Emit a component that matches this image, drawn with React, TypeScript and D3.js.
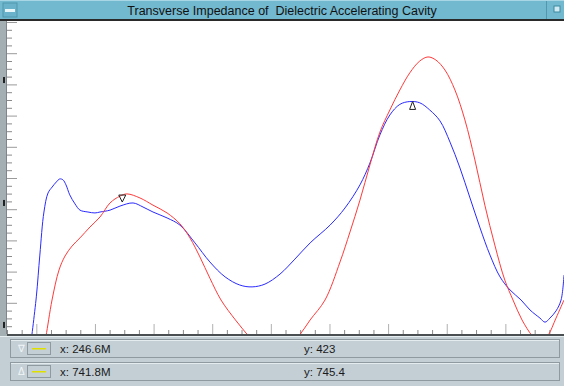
import React from 'react';
import * as d3 from 'd3';

// frequency (MHz) and impedance readings, estimated from the trace
const blueFreq = [90, 100, 106, 113, 120, 127, 134, 140, 145.5, 150.6, 157, 166, 174.5, 188, 200, 208.6, 225.7, 242.7, 265, 282, 299, 323, 345, 370.6, 396, 422, 447, 468, 490, 515.6, 541, 567, 601, 626.5, 652, 669, 686, 703, 720, 737, 754, 771, 788.5, 805.6, 822.6, 839.7, 856.8, 873.8, 890.9, 908, 926.8, 942, 959, 967.6, 976, 986.4, 995, 1000];
const blueVal = [-40, 119, 253, 391, 452, 471, 487, 497, 494, 478, 446, 417, 397, 391, 388, 391, 397, 410, 420, 407, 391, 372, 349, 292, 231, 183, 157, 151, 160, 192, 240, 292, 349, 404, 478, 548, 638, 702, 736, 745, 741, 718, 683, 615, 532, 436, 340, 253, 183, 141, 109, 77, 51, 38, 51, 74, 109, 189];

const redFreq = [113, 116.5, 126.8, 138.7, 149, 161, 174.5, 191.6, 208.6, 225.7, 242.7, 254.7, 276.8, 299, 323, 345, 362, 379, 396, 415, 439.6, 461.7, 481.5, 503.7, 526, 548, 567, 592.4, 618, 635, 652, 669, 686, 703, 720, 737, 754, 768, 781.6, 797, 814, 831, 848, 865, 882, 899, 913, 928.4, 945.5, 959, 972.5, 986.4, 1000];
const redVal = [-35, -6, 109, 205, 250, 282, 308, 343, 375, 420, 442, 449, 436, 413, 388, 353, 308, 247, 179, 109, 45, -6, -51, -67, -51, -6, 45, 109, 231, 327, 429, 542, 647, 718, 782, 837, 875, 888, 878, 846, 782, 686, 558, 413, 285, 173, 109, 45, -6, -35, -6, 51, 109];

const markerDown = { f: 246.6, v: 423 };
const markerUp = { f: 741.8, v: 745.4 };
const readouts = [
  { sym: '∇', x: 'x: 246.6M', y: 'y: 423' },
  { sym: 'Δ', x: 'x: 741.8M', y: 'y: 745.4' },
];

const W = 564, H = 386;
const L = 7, R = 564, T = 22, B = 334;

export default function App() {
  const x = d3.scaleLinear().domain([50, 1000]).range([L, R]);
  const y = d3.scaleLinear().domain([0, 1000]).range([B, T]);

  const line = d3.line<[number, number]>()
    .x(d => x(d[0])).y(d => y(d[1]))
    .curve(d3.curveCatmullRom.alpha(0.5));

  const bluePath = line(blueFreq.map((f, i) => [f, blueVal[i]]) as [number, number][]) || '';
  const redPath = line(redFreq.map((f, i) => [f, redVal[i]]) as [number, number][]) || '';

  const yTicks = d3.range(0, 1001, 25);
  const xTicks = d3.range(50, 1001, 25);

  const md = { px: x(markerDown.f), py: y(markerDown.v) };
  const mu = { px: x(markerUp.f), py: y(markerUp.v) };

  return (
    <svg width={W} height={H} style={{ position: 'absolute', left: 0, top: 0, fontFamily: 'Liberation Sans, Arial, sans-serif' }}>
      <defs>
        <clipPath id="plot"><rect x={L} y={T} width={R - L} height={B - T} /></clipPath>
      </defs>
      <rect x={0} y={0} width={W} height={H} fill="#c3cfd5" />
      {/* title bar */}
      <rect x={0} y={0} width={W} height={20} fill="#72b8cf" />
      <line x1={0} x2={W} y1={0.5} y2={0.5} stroke="#a9d6e4" />
      <rect x={3} y={3} width={14} height={14} fill="#6ab2c9" stroke="#4f98ae" />
      <rect x={5} y={9} width={10} height={3} fill="#e8f6fa" />
      <line x1={546.5} x2={546.5} y1={1} y2={19} stroke="#4f98ae" />
      <rect x={554} y={6} width={6} height={6} fill="#cfeaf2" stroke="#3d8aa0" />
      <text x={282} y={15} textAnchor="middle" fontSize={12.5} fill="#111" style={{ whiteSpace: 'pre' }}>Transverse Impedance of  Dielectric Accelerating Cavity</text>
      <rect x={0} y={19} width={W} height={2} fill="#2a2a2a" />
      {/* left frame */}
      <rect x={0} y={21} width={L} height={B - 21 + 2} fill="#a3afb3" />
      <line x1={6.5} x2={6.5} y1={21} y2={B} stroke="#7d878b" />
      {[814, 420, 29].map(v => <rect key={v} x={3} y={y(v) - 3} width={2} height={6} fill="#222" />)}
      {/* plot area */}
      <rect x={L} y={T - 1} width={R - L} height={B - T + 1} fill="#fff" />
      {yTicks.map(v => {
        const major = v % 100 === 0;
        return <line key={'y' + v} x1={L} x2={L + (major ? 10 : 5)} y1={y(v) + 0.5} y2={y(v) + 0.5} stroke={major ? '#9a9a9a' : '#8a8a8a'} />;
      })}
      {xTicks.map(f => {
        const major = f % 100 === 0;
        return <line key={'x' + f} x1={x(f) + 0.5} x2={x(f) + 0.5} y1={B} y2={B - (major ? 10 : 4)} stroke={major ? '#b0b0b0' : '#8a8a8a'} />;
      })}
      <g clipPath="url(#plot)" fill="none" strokeWidth={1}>
        <path d={bluePath} stroke="#2a2aff" />
        <path d={redPath} stroke="#ff3a3a" />
      </g>
      {/* markers */}
      <path d={`M${md.px - 3.5},${md.py - 7}L${md.px + 3.5},${md.py - 7}L${md.px},${md.py}Z`} fill="none" stroke="#222" />
      <path d={`M${mu.px},${mu.py}L${mu.px + 3},${mu.py + 8}L${mu.px - 3},${mu.py + 8}Z`} fill="none" stroke="#222" />
      {/* bottom axis line */}
      <rect x={L} y={B} width={R - L} height={2} fill="#4a4f52" />
      <rect x={0} y={B + 2} width={W} height={1} fill="#e6eef1" />
      {/* readout panel */}
      {readouts.map((r, i) => {
        const ry = 339 + i * 23;
        return (
          <g key={i}>
            <rect x={10.5} y={ry + 0.5} width={549} height={18} fill="#c3cfd5" stroke="#8e9a9f" />
            <line x1={11} x2={559} y1={ry + 1.5} y2={ry + 1.5} stroke="#e4ecef" />
            <text x={18} y={ry + 13} fontSize={10} fill="#f2f6f7">{r.sym}</text>
            <rect x={27.5} y={ry + 3.5} width={23} height={12} fill="#c3cfd5" stroke="#8e9a9f" />
            <rect x={32} y={ry + 9} width={14} height={1.5} fill="#e0e000" />
            <text x={60} y={ry + 14} fontSize={11.5} fill="#1a1a1a">{r.x}</text>
            <text x={304} y={ry + 14} fontSize={11.5} fill="#1a1a1a">{r.y}</text>
          </g>
        );
      })}
    </svg>
  );
}
